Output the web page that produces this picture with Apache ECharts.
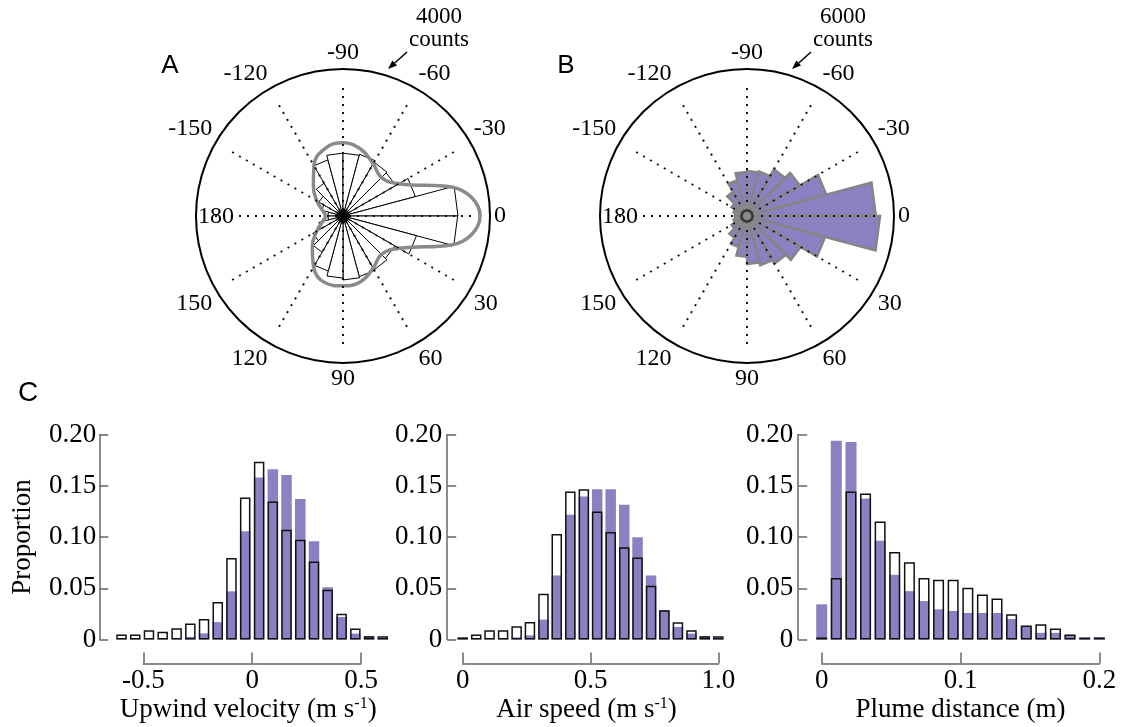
<!DOCTYPE html>
<html>
<head>
<meta charset="utf-8">
<title>Heading roses and histograms</title>
<script src="https://cdn.jsdelivr.net/npm/echarts@6/dist/echarts.min.js"></script>
<style>
  html, body { margin: 0; padding: 0; background: #fff; }
  #chart { width: 1126px; height: 727px; }
</style>
</head>
<body>
<div id="chart"></div>
<script>
// ---- rose data (angle bins of 15 deg, chart convention: 0 right, -90 up) ----
var binStarts = [-180,-165,-150,-135,-120,-105,-90,-75,-60,-45,-30,-15,0,15,30,45,60,75,90,105,120,135,150,165];
var binWidth = 15;
var countsA = [410,600,760,1030,1580,1710,1710,1740,1690,1660,2040,3130,3120,2070,1630,1690,1710,1740,1690,1550,1140,950,680,410];
var countsB = [490,570,730,1140,1510,1800,1840,1880,2200,2490,3350,5260,5430,3300,2530,2240,2080,1960,1670,1310,1020,730,570,490];
var curveAngles = [-180,-165,-150,-135,-120,-105,-90,-75,-60,-45,-30,-15,0,15,30,45,60,75,90,105,120,135,150,165,180];
var curveA = [460,570,820,1140,1580,1900,1990,1880,1640,1480,1760,3050,3730,3050,1760,1480,1640,1850,1900,1880,1600,1180,820,570,460];

// ---- histogram data (bin centres and proportions) ----
var upwindCenters = [-0.6,-0.537,-0.474,-0.411,-0.347,-0.284,-0.221,-0.158,-0.095,-0.032,0.032,0.095,0.158,0.221,0.284,0.347,0.411,0.474,0.537,0.6];
var upwindFilled = [0.001,0.001,0.001,0.001,0.001,0.0026,0.006,0.017,0.047,0.1055,0.158,0.166,0.1605,0.137,0.0958,0.051,0.022,0.0058,0.0032,0.001];
var upwindOpen = [0.005,0.005,0.009,0.0075,0.011,0.0155,0.020,0.0366,0.0796,0.1385,0.1735,0.1346,0.107,0.0974,0.076,0.0485,0.0252,0.0107,0.0032,0.0032];

var airCenters = [0,0.053,0.105,0.158,0.211,0.263,0.316,0.368,0.421,0.474,0.526,0.579,0.632,0.684,0.737,0.789,0.842,0.895,0.947,1.0];
var airFilled = [0.002,0.0005,0.001,0.001,0.002,0.004,0.0194,0.0625,0.1217,0.1395,0.1466,0.1466,0.1314,0.0997,0.0625,0.0285,0.0123,0.0058,0.0032,0.001];
var airOpen = [0.002,0.005,0.009,0.009,0.013,0.017,0.0447,0.103,0.1443,0.1466,0.125,0.105,0.090,0.080,0.0524,0.0285,0.0168,0.009,0.0032,0.0032];

var plumeCenters = [0,0.0105,0.0211,0.0316,0.0421,0.0526,0.0632,0.0737,0.0842,0.0947,0.1053,0.1158,0.1263,0.1368,0.1474,0.1579,0.1684,0.1789,0.1895,0.2];
var plumeFilled = [0.0343,0.194,0.1926,0.1375,0.0964,0.0631,0.0472,0.0375,0.0294,0.0278,0.0259,0.0259,0.0259,0.020,0.013,0.0065,0.0065,0.0045,0.0013,0.002];
var plumeOpen = [0.002,0.060,0.1443,0.1424,0.1152,0.0854,0.0754,0.060,0.0583,0.0583,0.0505,0.044,0.040,0.0246,0.0136,0.0149,0.0107,0.005,0.002,0.002];

var SERIF = '"Liberation Serif", "Times New Roman", serif';
var SANS = '"Liberation Sans", Arial, sans-serif';
var PURPLE = '#8b80c2';

var chart = echarts.init(document.getElementById('chart'));

// outer ring with labels / inner ring with dotted spokes
function outerAngle(pi) {
    return {
        polarIndex: pi, type: 'value', min: -180, max: 180, interval: 30,
        startAngle: 180, clockwise: true,
        axisLine: { lineStyle: { color: '#000', width: 2 } },
        axisTick: { show: false },
        splitLine: { show: false },
        axisLabel: {
            margin: 4, fontFamily: SERIF, fontSize: 24, color: '#000',
            // 180 sits just inside the ring in the original, drawn separately below
            formatter: function (v) { return Math.abs(v) === 180 ? '' : String(v); }
        }
    };
}
function spokeAngle(pi) {
    return {
        polarIndex: pi, type: 'value', min: -180, max: 180, interval: 30,
        startAngle: 180, clockwise: true, z: 4,
        axisLine: { show: false }, axisTick: { show: false }, axisLabel: { show: false },
        splitLine: { show: true, lineStyle: { color: '#111', width: 2, type: [2, 6] } }
    };
}

function wedgeSeries(pi, counts, fill, stroke, lw) {
    return {
        type: 'custom', coordinateSystem: 'polar', polarIndex: pi, z: 2,
        data: binStarts.map(function (a, i) { return [counts[i], a, a + binWidth]; }),
        renderItem: function (params, api) {
            var r = api.value(0), a0 = api.value(1), a1 = api.value(2);
            return {
                type: 'polygon',
                shape: { points: [api.coord([0, a0]), api.coord([r, a0]), api.coord([r, a1])] },
                style: { fill: fill, stroke: stroke, lineWidth: lw }
            };
        }
    };
}

var grids = [], xAxes = [], yAxes = [], barSeries = [];
function addHist(gi, cfg) {
    grids.push({ left: cfg.left, top: 434.5, width: cfg.width, height: 205 });
    xAxes.push({
        gridIndex: gi, type: 'value', min: cfg.min, max: cfg.max, interval: cfg.step, offset: 24,
        axisLine: { onZero: false, lineStyle: { color: '#666', width: 1.5 } },
        axisTick: { inside: true, length: 11, lineStyle: { color: '#666', width: 1.5 } },
        splitLine: { show: false },
        axisLabel: {
            margin: 4, fontFamily: SERIF, fontSize: 27, color: '#000',
            formatter: function (v) { return v === 0 ? '0' : v.toFixed(1); }
        },
        name: cfg.name, nameLocation: 'middle', nameGap: 29,
        nameTextStyle: {
            fontFamily: SERIF, fontSize: 27, color: '#000', lineHeight: 30, padding: [0, cfg.namePad, 0, 0],
            rich: { sup: { fontFamily: SERIF, fontSize: 16, lineHeight: 14, verticalAlign: 'top', color: '#000' } }
        }
    });
    yAxes.push({
        gridIndex: gi, type: 'value', min: 0, max: 0.2, interval: 0.05, offset: cfg.yOffset,
        axisLine: { show: true, onZero: false, lineStyle: { color: '#666', width: 1.5 } },
        axisTick: { show: true, inside: true, length: 9, lineStyle: { color: '#666', width: 1.5 } },
        splitLine: { show: false },
        axisLabel: {
            margin: cfg.yMargin, fontFamily: SERIF, fontSize: 27, color: '#000',
            formatter: function (v) { return v === 0 ? '0' : v.toFixed(2); }
        },
        name: gi === 0 ? 'Proportion' : '', nameLocation: 'middle', nameGap: 63,
        nameTextStyle: { fontFamily: SERIF, fontSize: 27, color: '#000' }
    });
    barSeries.push({
        type: 'bar', xAxisIndex: gi, yAxisIndex: gi, barWidth: cfg.barW, barGap: '-100%', clip: false,
        data: cfg.centers.map(function (c, i) { return [c, cfg.filled[i]]; }),
        itemStyle: { color: PURPLE }
    }, {
        type: 'bar', xAxisIndex: gi, yAxisIndex: gi, barWidth: cfg.barW, barGap: '-100%', clip: false,
        data: cfg.centers.map(function (c, i) { return [c, cfg.open[i]]; }),
        itemStyle: { color: 'rgba(255,255,255,0)', borderColor: '#111', borderWidth: 1.5 }
    });
}

addHist(0, { left: 143.3, width: 217.7, min: -0.5, max: 0.5, step: 0.5, yOffset: 44, yMargin: 3, barW: 10.5, namePad: 8,
    name: 'Upwind velocity (m s{sup|-1})', centers: upwindCenters, filled: upwindFilled, open: upwindOpen });
addHist(1, { left: 462.7, width: 255.6, min: 0, max: 1, step: 0.5, yOffset: 15.5, yMargin: 5, barW: 10.5, namePad: 8,
    name: 'Air speed (m s{sup|-1})', centers: airCenters, filled: airFilled, open: airOpen });
addHist(2, { left: 821.7, width: 277.6, min: 0, max: 0.2, step: 0.1, yOffset: 23.5, yMargin: 5, barW: 11, namePad: 0,
    name: 'Plume distance (m)', centers: plumeCenters, filled: plumeFilled, open: plumeOpen });

function arrow(x1, y1, x2, y2) {
    var dx = x2 - x1, dy = y2 - y1, len = Math.sqrt(dx * dx + dy * dy);
    var ux = dx / len, uy = dy / len, bx = x2 - ux * 9, by = y2 - uy * 9;
    return [
        { type: 'line', shape: { x1: x1, y1: y1, x2: bx, y2: by }, style: { stroke: '#000', lineWidth: 1.5 } },
        { type: 'polygon', shape: { points: [[x2, y2], [bx - uy * 3.5, by + ux * 3.5], [bx + uy * 3.5, by - ux * 3.5]] }, style: { fill: '#000' } }
    ];
}
function label(text, x, y, font) {
    return { type: 'text', x: x, y: y, z: 10, style: { text: text, font: font, fill: '#000', align: 'center', verticalAlign: 'middle' } };
}

var graphics = [
    label('A', 170, 66, '26px ' + SANS),
    label('B', 566, 66, '26px ' + SANS),
    label('C', 28, 393, '28px ' + SANS),
    label('4000', 439, 17, '23px ' + SERIF),
    label('counts', 439, 40, '23px ' + SERIF),
    label('6000', 843, 17, '23px ' + SERIF),
    label('counts', 843, 40, '23px ' + SERIF),
    label('180', 216, 217, '24px ' + SERIF),
    label('180', 620, 217, '24px ' + SERIF)
].concat(arrow(407, 52, 388, 69)).concat(arrow(811, 52, 792, 69));

var option = {
    animation: false,
    backgroundColor: '#fff',
    polar: [
        { center: [343, 216], radius: 147 },
        { center: [343, 216], radius: 128 },
        { center: [747, 216], radius: 147 },
        { center: [747, 216], radius: 128 }
    ],
    angleAxis: [outerAngle(0), spokeAngle(1), outerAngle(2), spokeAngle(3)],
    radiusAxis: [
        { polarIndex: 0, min: 0, max: 4000, show: false },
        { polarIndex: 1, min: 0, max: 1, show: false },
        { polarIndex: 2, min: 0, max: 6000, show: false },
        { polarIndex: 3, min: 0, max: 1, show: false }
    ],
    grid: grids,
    xAxis: xAxes,
    yAxis: yAxes,
    graphic: graphics,
    series: [
        wedgeSeries(0, countsA, '#fff', '#000', 1),
        {
            type: 'line', coordinateSystem: 'polar', polarIndex: 0, z: 3,
            data: curveAngles.map(function (a, i) { return [curveA[i], a]; }),
            smooth: 0.45, symbol: 'none',
            lineStyle: { color: '#8a8a8a', width: 3.5 }
        },
        {
            type: 'scatter', coordinateSystem: 'polar', polarIndex: 0, z: 6,
            data: [[0, 0]], symbolSize: 13, itemStyle: { color: '#000' }
        },
        wedgeSeries(2, countsB, PURPLE, '#858585', 2.5),
        {
            type: 'scatter', coordinateSystem: 'polar', polarIndex: 2, z: 6,
            data: [[0, 0]], symbolSize: 22, itemStyle: { color: '#8a8a8a' }
        },
        {
            type: 'scatter', coordinateSystem: 'polar', polarIndex: 2, z: 7,
            data: [[0, 0]], symbolSize: 11,
            itemStyle: { color: '#8a8a8a', borderColor: '#222', borderWidth: 2.5 }
        }
    ].concat(barSeries)
};

chart.setOption(option);
</script>
</body>
</html>
